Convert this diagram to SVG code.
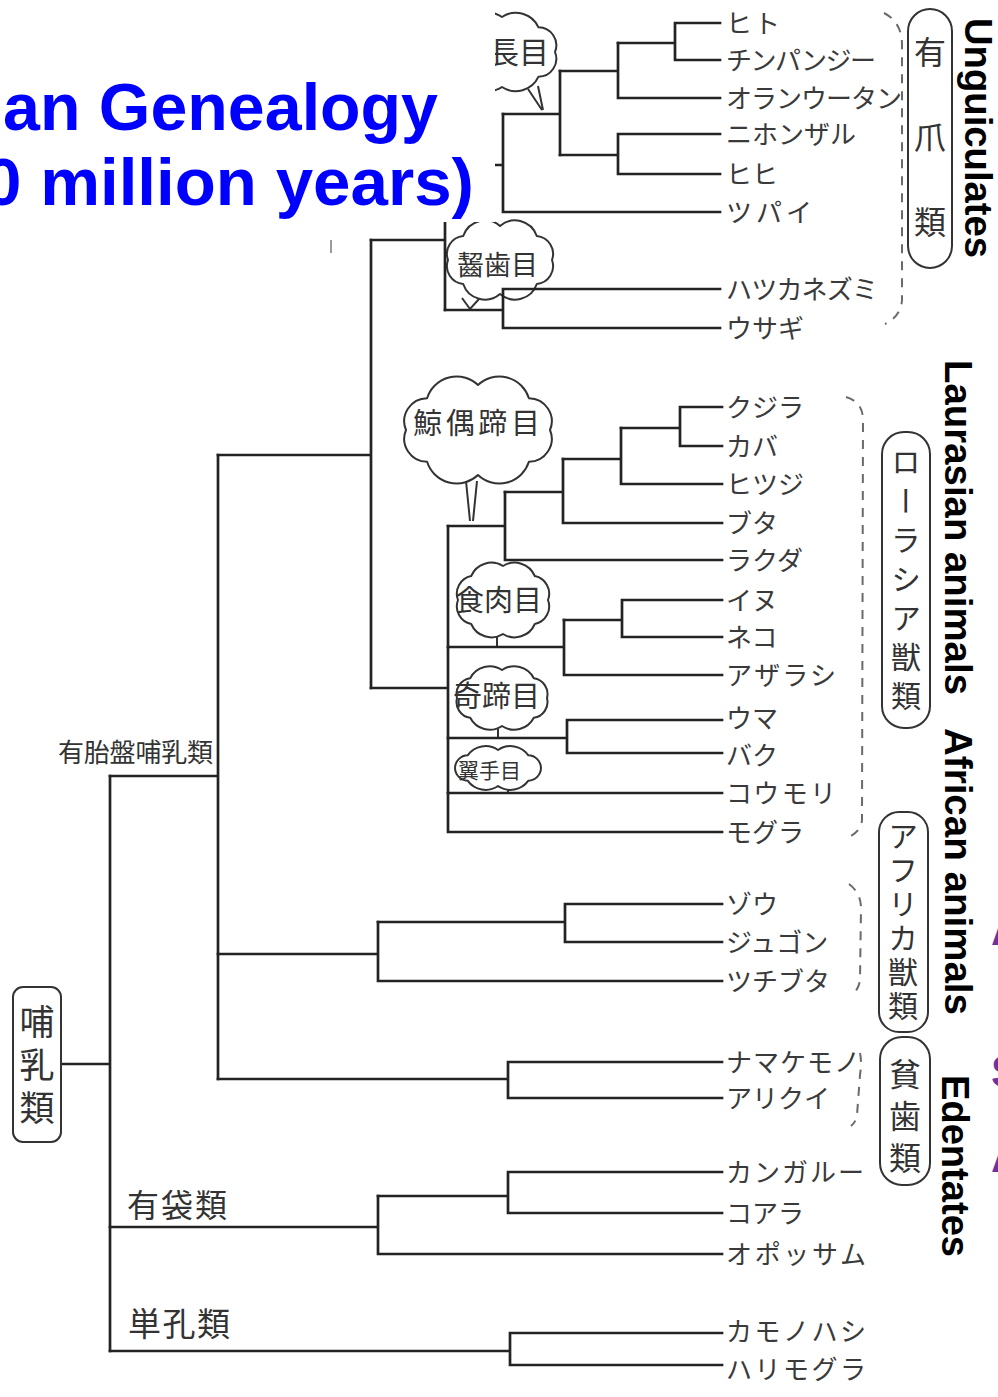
<svg xmlns="http://www.w3.org/2000/svg" width="998" height="1397" viewBox="0 0 998 1397">
<defs>
<style>
.ln{fill:none;stroke:#232323;stroke-width:2.7;stroke-linecap:square}
.br{fill:none;stroke:#6a6a6a;stroke-width:2;stroke-dasharray:9 8}
.bx{fill:#fff;stroke:#333;stroke-width:2}
.cl{fill:#fff;stroke:#333;stroke-width:2;stroke-linejoin:round}
.tl{fill:none;stroke:#333;stroke-width:2}
.lb{font-family:"Noto Sans CJK JP",sans-serif;font-size:26px;fill:#3a3a3a}
.jb{font-family:"Noto Sans CJK JP",sans-serif;fill:#333}
.jv{font-family:"Noto Sans CJK JP",sans-serif;fill:#333;writing-mode:vertical-rl}
.en{font-family:"Liberation Sans",Arial,sans-serif;font-weight:bold;font-size:38.5px;fill:#000}
.tt{font-family:"Liberation Sans",Arial,sans-serif;font-weight:bold;font-size:66px;fill:#0000ff}
.pp{font-family:"Liberation Sans",Arial,sans-serif;font-weight:bold;font-size:44px;fill:#7030a0}
</style>
</defs>
<rect width="998" height="1397" fill="#fff"/>

<!-- order bubbles -->
<g id="bubble-primates">
<path class="cl" d="M555,52 A18,18 0 0 1 538.5,76.7 A25,25 0 0 1 502,87 A25,25 0 0 1 465.5,76.7 A18,18 0 0 1 449,52 A18,18 0 0 1 465.5,27.3 A25,25 0 0 1 502,17 A25,25 0 0 1 538.5,27.3 A18,18 0 0 1 555,52 Z"/>
<path class="tl" d="M528,89 L542,110 M538,86 L543,110"/>
<text class="jb" x="489" y="63" font-size="30">長目</text>
</g>
<g id="bubble-rodents">
<path class="cl" d="M552,260 A18,18 0 0 1 536.8,284 A23,23 0 0 1 500,294 A23,23 0 0 1 463.2,284 A18,18 0 0 1 448,260 A18,18 0 0 1 463.2,236 A23,23 0 0 1 500,226 A23,23 0 0 1 536.8,236 A18,18 0 0 1 552,260 Z"/>
<path class="tl" d="M462,298 L470,309 L479,299"/>
<text class="jb" x="457" y="275" font-size="27">齧歯目</text>
</g>
<g id="bubble-cetartiodactyla">
<path class="cl" d="M550,430 A23,23 0 0 1 528.9,461.8 A31,31 0 0 1 478,475 A31,31 0 0 1 427.1,461.8 A23,23 0 0 1 406,430 A23,23 0 0 1 427.1,398.2 A31,31 0 0 1 478,385 A31,31 0 0 1 528.9,398.2 A23,23 0 0 1 550,430 Z"/>
<path class="tl" d="M466,481 L470,521 M477,481 L473,521"/>
<text class="jb" x="413" y="434" font-size="29" textLength="127" lengthAdjust="spacing">鯨偶蹄目</text>
</g>
<g id="bubble-carnivora">
<path class="cl" d="M548,600 A18,18 0 0 1 534.8,624 A22,22 0 0 1 503,634 A22,22 0 0 1 471.2,624 A18,18 0 0 1 458,600 A18,18 0 0 1 471.2,576 A22,22 0 0 1 503,566 A22,22 0 0 1 534.8,576 A18,18 0 0 1 548,600 Z"/>
<path class="tl" d="M497,636 V647"/>
<text class="jb" x="455" y="611" font-size="29">食肉目</text>
</g>
<g id="bubble-perissodactyla">
<path class="cl" d="M547,698 A16,16 0 0 1 533.8,717.8 A22,22 0 0 1 502,726 A22,22 0 0 1 470.2,717.8 A16,16 0 0 1 457,698 A16,16 0 0 1 470.2,678.2 A22,22 0 0 1 502,670 A22,22 0 0 1 533.8,678.2 A16,16 0 0 1 547,698 Z"/>
<path class="tl" d="M498,729 V738"/>
<text class="jb" x="453" y="707" font-size="29">奇蹄目</text>
</g>
<g id="bubble-chiroptera">
<path class="cl" d="M541,768 A13,13 0 0 1 528.4,780.7 A22,22 0 0 1 498,786 A22,22 0 0 1 467.6,780.7 A13,13 0 0 1 455,768 A13,13 0 0 1 467.6,755.3 A22,22 0 0 1 498,750 A22,22 0 0 1 528.4,755.3 A13,13 0 0 1 541,768 Z"/>
<path class="tl" d="M508,789 V793"/>
<text class="jb" x="458" y="778" font-size="21">翼手目</text>
</g>

<!-- connectors -->
<g id="connectors" class="ln">
<path d="M720,23 H675 V60 H720 M675,43 H618"/>
<path d="M618,43 V98 H720 M618,71 H560"/>
<path d="M720,134 H618 V174 H720 M618,155 H560"/>
<path d="M560,71 V155 M560,114 H503"/>
<path d="M503,114 V212 H720 M503,165 H445"/>
<path d="M720,289 H503 V328 H720 M503,310 H445"/>
<path d="M445,165 V310 M445,240 H371"/>
<path d="M722,407 H680 V446 H722 M680,428 H621"/>
<path d="M621,428 V484 H722 M621,459 H563"/>
<path d="M563,459 V523 H722 M563,492 H505"/>
<path d="M505,492 V560 H722 M505,526 H448"/>
<path d="M722,600 H622 V637 H722 M622,620 H564"/>
<path d="M564,620 V675 H722 M564,647 H448"/>
<path d="M722,720 H567 V753 H722 M567,738 H448"/>
<path d="M448,793 H722"/>
<path d="M448,526 V832 H722 M448,688 H371"/>
<path d="M371,240 V688 M371,455 H218"/>
<path d="M722,904 H565 V942 H722 M565,922 H378"/>
<path d="M378,922 V981 H722 M378,954 H218"/>
<path d="M722,1062 H508 V1098 H722 M508,1079 H218"/>
<path d="M218,455 V1079 M218,776 H110"/>
<path d="M722,1172 H508 V1213 H722 M508,1196 H378"/>
<path d="M378,1196 V1254 H722 M378,1227 H110"/>
<path d="M722,1333 H510 V1365 H722 M510,1351 H110"/>
<path d="M110,776 V1351 M61,1064 H110"/>
</g>

<!-- group brackets -->
<g id="brackets" class="br">
<path d="M884,13 Q902,22 902,45 L902,300 Q901,316 885,324"/>
<path d="M846,397 Q863,402 863,420 L862,820 Q861,832 847,838"/>
<path d="M849,884 Q861,893 861,908 L860,980 Q859,987 855,992"/>
<path d="M860,1053 Q862,1062 860,1075 L857,1115 Q856,1122 851,1126"/>
</g>

<!-- group boxes -->
<g id="box-unguiculata"><rect class="bx" x="908" y="9" width="44" height="259" rx="22"/><text class="jv" x="930" y="36" font-size="32" letter-spacing="53">有爪類</text></g>
<g id="box-laurasiatheria"><rect class="bx" x="882" y="432" width="48" height="296" rx="22"/><text class="jv" x="906" y="447" font-size="30" letter-spacing="9">ローラシア獣類</text></g>
<g id="box-afrotheria"><rect class="bx" x="879" y="812" width="49" height="220" rx="20"/><text class="jv" x="903" y="821" font-size="30" letter-spacing="4">アフリカ獣類</text></g>
<g id="box-xenarthra"><rect class="bx" x="880" y="1037" width="50" height="148" rx="22"/><text class="jv" x="905" y="1058" font-size="32" letter-spacing="10">貧歯類</text></g>
<g id="box-mammalia"><rect class="bx" x="13" y="987" width="48" height="155" rx="10"/><text class="jv" x="37" y="1004" font-size="35" letter-spacing="8">哺乳類</text></g>

<!-- clade labels -->
<g id="lbl-placentals"><text class="jb" x="58" y="762" font-size="26" textLength="155">有胎盤哺乳類</text></g>
<g id="lbl-marsupials"><text class="jb" x="127" y="1217" font-size="32" textLength="100">有袋類</text></g>
<g id="lbl-monotremes"><text class="jb" x="128" y="1336" font-size="33" textLength="102">単孔類</text></g>

<!-- leaves -->
<g id="leaf-human"><text class="lb" x="726" y="33" textLength="54">ヒト</text></g>
<g id="leaf-chimp"><text class="lb" x="726" y="70" textLength="150">チンパンジー</text></g>
<g id="leaf-orangutan"><text class="lb" x="726" y="108" textLength="176">オランウータン</text></g>
<g id="leaf-macaque"><text class="lb" x="726" y="144" textLength="130">ニホンザル</text></g>
<g id="leaf-baboon"><text class="lb" x="726" y="184">ヒヒ</text></g>
<g id="leaf-treeshrew"><text class="lb" x="726" y="222" textLength="86">ツパイ</text></g>
<g id="leaf-mouse"><text class="lb" x="726" y="299" textLength="152">ハツカネズミ</text></g>
<g id="leaf-rabbit"><text class="lb" x="726" y="338">ウサギ</text></g>
<g id="leaf-whale"><text class="lb" x="726" y="417">クジラ</text></g>
<g id="leaf-hippo"><text class="lb" x="726" y="456">カバ</text></g>
<g id="leaf-sheep"><text class="lb" x="726" y="494">ヒツジ</text></g>
<g id="leaf-pig"><text class="lb" x="726" y="533">ブタ</text></g>
<g id="leaf-camel"><text class="lb" x="726" y="570">ラクダ</text></g>
<g id="leaf-dog"><text class="lb" x="726" y="610">イヌ</text></g>
<g id="leaf-cat"><text class="lb" x="726" y="647">ネコ</text></g>
<g id="leaf-seal"><text class="lb" x="726" y="685" textLength="110">アザラシ</text></g>
<g id="leaf-horse"><text class="lb" x="726" y="728">ウマ</text></g>
<g id="leaf-tapir"><text class="lb" x="726" y="765">バク</text></g>
<g id="leaf-bat"><text class="lb" x="726" y="803" textLength="110">コウモリ</text></g>
<g id="leaf-mole"><text class="lb" x="726" y="842">モグラ</text></g>
<g id="leaf-elephant"><text class="lb" x="726" y="914">ゾウ</text></g>
<g id="leaf-dugong"><text class="lb" x="726" y="952">ジュゴン</text></g>
<g id="leaf-aardvark"><text class="lb" x="726" y="991">ツチブタ</text></g>
<g id="leaf-sloth"><text class="lb" x="726" y="1072" textLength="134">ナマケモノ</text></g>
<g id="leaf-anteater"><text class="lb" x="726" y="1108">アリクイ</text></g>
<g id="leaf-kangaroo"><text class="lb" x="726" y="1182" textLength="138">カンガルー</text></g>
<g id="leaf-koala"><text class="lb" x="726" y="1223">コアラ</text></g>
<g id="leaf-opossum"><text class="lb" x="726" y="1264" textLength="140">オポッサム</text></g>
<g id="leaf-platypus"><text class="lb" x="726" y="1341" textLength="140">カモノハシ</text></g>
<g id="leaf-echidna"><text class="lb" x="726" y="1379" textLength="140">ハリモグラ</text></g>

<!-- scan edge mark -->
<path d="M331,240 V253" stroke="#9a9a9a" stroke-width="2"/>

<!-- title box -->
<g id="title">
<rect x="0" y="0" width="495" height="222" fill="#fff"/>
<text class="tt" x="3" y="130" textLength="435" lengthAdjust="spacingAndGlyphs">an Genealogy</text>
<text class="tt" x="-16" y="205" textLength="490" lengthAdjust="spacingAndGlyphs">0 million years)</text>
</g>

<!-- english group labels -->
<g id="en-unguiculates"><text class="en" transform="translate(965,18) rotate(90)" textLength="240" lengthAdjust="spacingAndGlyphs">Unguiculates</text></g>
<g id="en-laurasian"><text class="en" transform="translate(945,360) rotate(90)" textLength="335" lengthAdjust="spacingAndGlyphs">Laurasian animals</text></g>
<g id="en-african"><text class="en" transform="translate(945,728) rotate(90)" textLength="287" lengthAdjust="spacingAndGlyphs">African animals</text></g>
<g id="en-edentates"><text class="en" transform="translate(942,1075) rotate(90)" textLength="182" lengthAdjust="spacingAndGlyphs">Edentates</text></g>

<!-- clipped purple fragments at right edge -->
<g id="edge-fragments">
<text class="pp" x="991" y="945">A</text>
<text class="pp" x="991" y="1087">S</text>
<text class="pp" x="991" y="1172">A</text>
</g>
</svg>
